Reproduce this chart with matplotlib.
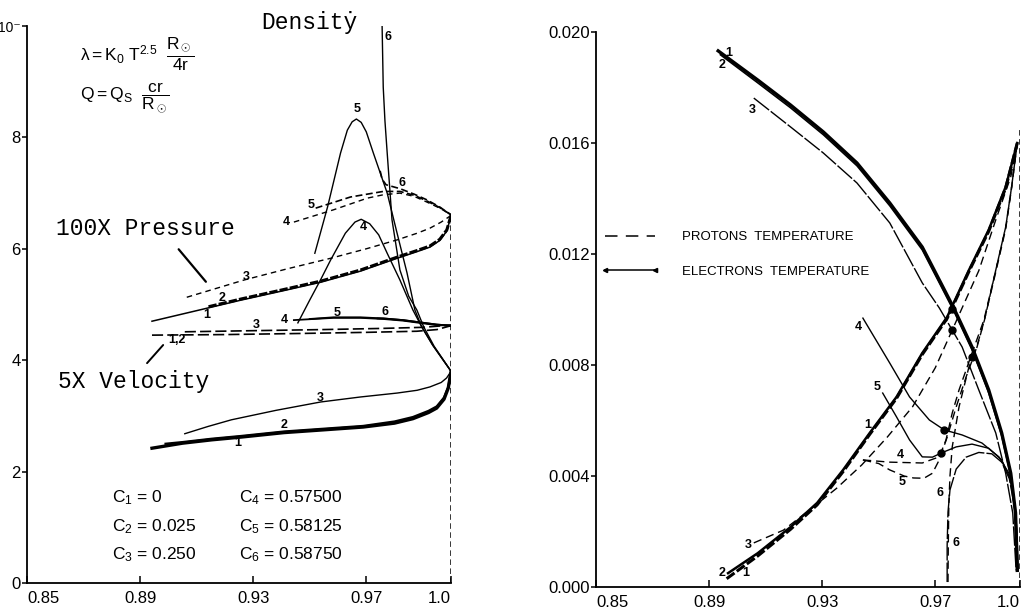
import matplotlib
matplotlib.use('Agg')
import matplotlib.pyplot as plt
from matplotlib.lines import Line2D

plt.rcParams['font.family'] = ['Liberation Sans', 'DejaVu Sans']
plt.rcParams['mathtext.fontset'] = 'custom'
plt.rcParams['mathtext.rm'] = 'Liberation Sans'
plt.rcParams['mathtext.it'] = 'Liberation Sans'
plt.rcParams['mathtext.bf'] = 'Liberation Sans:bold'
plt.rcParams['lines.scale_dashes'] = False

# ---------------- LEFT PANEL DATA ----------------
x_ticks = [0.85, 0.89, 0.93, 0.97, 1.0]
x_ticklabels = ['0.85', '0.89', '0.93', '0.97', '1.0']
left_yticks = [0, 2, 4, 6, 8, 10]
left_yticklabels = ['0', '2', '4', '6', '8', '10\u207b']

# density
dens1_x = [0.8942, 0.9050, 0.9153, 0.9258, 0.9409, 0.9550, 0.9689, 0.9800, 0.9865, 0.9920, 0.9949, 0.9975, 0.9990, 1.0]
dens1_y = [2.42, 2.51, 2.57, 2.62, 2.70, 2.75, 2.80, 2.87, 2.95, 3.06, 3.14, 3.30, 3.50, 3.80]
dens2_x = [0.8990, 0.9050, 0.9153, 0.9258, 0.9409, 0.9550, 0.9689, 0.9800, 0.9865, 0.9920, 0.9949, 0.9975, 0.9990, 1.0]
dens2_y = [2.50, 2.53, 2.59, 2.64, 2.72, 2.77, 2.82, 2.90, 2.98, 3.09, 3.17, 3.33, 3.52, 3.80]
dens3_x = [0.9058, 0.9140, 0.9223, 0.9381, 0.9539, 0.9680, 0.9809, 0.9880, 0.9925, 0.9965, 0.9984, 1.0]
dens3_y = [2.68, 2.81, 2.93, 3.10, 3.25, 3.34, 3.41, 3.46, 3.52, 3.60, 3.68, 3.80]
dens4_x = [0.9458, 0.9500, 0.9540, 0.9574, 0.9626, 0.9660, 0.9682, 0.9712, 0.9744, 0.9774, 0.9819, 0.9865, 0.9896, 0.9935, 1.0]
dens4_y = [4.67, 5.08, 5.46, 5.80, 6.28, 6.48, 6.53, 6.45, 6.25, 5.92, 5.44, 4.90, 4.60, 4.27, 3.80]
dens5_x = [0.9518, 0.9563, 0.9609, 0.9633, 0.9650, 0.9665, 0.9682, 0.9700, 0.9725, 0.9774, 0.9809, 0.9844, 0.9872, 0.9896, 0.9935, 1.0]
dens5_y = [5.92, 6.75, 7.72, 8.13, 8.28, 8.33, 8.27, 8.10, 7.72, 7.00, 6.28, 5.57, 4.90, 4.60, 4.27, 3.80]
dens6_x = [0.9756, 0.9760, 0.9766, 0.9774, 0.9791, 0.9819, 0.9850, 0.9879, 0.9903, 0.9940, 1.0]
dens6_y = [10.0, 8.9, 8.3, 7.72, 6.52, 5.62, 5.15, 4.90, 4.60, 4.25, 3.80]

# pressure (x100)
pres1_x = [0.8942, 0.9142, 0.9258, 0.9400, 0.9539, 0.9680, 0.9809, 0.9880, 0.9925, 0.9960, 0.9985, 1.0]
pres1_y = [4.70, 4.94, 5.08, 5.24, 5.40, 5.60, 5.83, 5.95, 6.03, 6.15, 6.32, 6.60]
pres2_x = [0.9142, 0.9258, 0.9400, 0.9539, 0.9680, 0.9809, 0.9880, 0.9925, 0.9960, 0.9985, 1.0]
pres2_y = [4.96, 5.10, 5.26, 5.42, 5.62, 5.85, 5.97, 6.05, 6.17, 6.34, 6.60]
pres3_x = [0.9065, 0.9268, 0.9420, 0.9574, 0.9700, 0.9809, 0.9880, 0.9925, 0.9965, 1.0]
pres3_y = [5.13, 5.44, 5.64, 5.83, 6.00, 6.16, 6.28, 6.37, 6.48, 6.60]
pres4_x = [0.9444, 0.9584, 0.9704, 0.9760, 0.9819, 0.9870, 0.9914, 0.9960, 1.0]
pres4_y = [6.48, 6.70, 6.91, 6.97, 7.00, 6.94, 6.84, 6.73, 6.61]
pres5_x = [0.9521, 0.9644, 0.9760, 0.9819, 0.9870, 0.9914, 0.9960, 1.0]
pres5_y = [6.73, 6.93, 7.03, 7.03, 6.96, 6.86, 6.74, 6.61]
pres6_x = [0.9749, 0.9756, 0.9770, 0.9819, 0.9870, 0.9914, 0.9960, 1.0]
pres6_y = [7.40, 7.25, 7.15, 7.08, 6.98, 6.88, 6.75, 6.61]

# velocity (x5)
vel12_x = [0.8942, 0.9200, 0.9468, 0.9700, 0.9879, 0.9950, 1.0]
vel12_y = [4.45, 4.46, 4.48, 4.50, 4.52, 4.55, 4.62]
vel3_x = [0.9058, 0.9300, 0.9550, 0.9750, 0.9900, 1.0]
vel3_y = [4.51, 4.53, 4.55, 4.57, 4.59, 4.63]
vel4_x = [0.9444, 0.9584, 0.9680, 0.9760, 0.9830, 0.9889, 0.9949, 1.0]
vel4_y = [4.72, 4.76, 4.76, 4.74, 4.71, 4.67, 4.63, 4.62]
vel5_x = [0.9500, 0.9584, 0.9680, 0.9760, 0.9830, 0.9889, 0.9949, 1.0]
vel5_y = [4.74, 4.77, 4.77, 4.75, 4.72, 4.68, 4.64, 4.62]
vel6_x = [0.9740, 0.9760, 0.9830, 0.9889, 0.9949, 1.0]
vel6_y = [4.75, 4.75, 4.72, 4.68, 4.64, 4.62]

left_boundary_x = [1.0, 1.0]
left_boundary_y = [0.0, 6.6]

left_labels = [('6', 0.9777, 9.80), ('5', 0.9668, 8.51), ('6', 0.9826, 7.18),
               ('5', 0.9504, 6.79), ('4', 0.9416, 6.48), ('4', 0.9690, 6.39),
               ('3', 0.9275, 5.49), ('2', 0.9191, 5.12), ('1', 0.9135, 4.81),
               ('4', 0.9409, 4.72), ('5', 0.9598, 4.85), ('6', 0.9767, 4.87),
               ('3', 0.9311, 4.63), ('1,2', 0.9030, 4.36), ('3', 0.9539, 3.32),
               ('2', 0.9409, 2.84), ('1', 0.9247, 2.51)]

c_labels_left = ['C$_1$ = 0', 'C$_2$ = 0.025', 'C$_3$ = 0.250']
c_labels_right = ['C$_4$ = 0.57500', 'C$_5$ = 0.58125', 'C$_6$ = 0.58750']

# ---------------- RIGHT PANEL DATA ----------------
right_yticks = [0.0, 0.004, 0.008, 0.012, 0.016, 0.020]
right_yticklabels = ['0.000', '0.004', '0.008', '0.012', '0.016', '0.020']

elec1_x = [0.8932, 0.9072, 0.9188, 0.9304, 0.9423, 0.9539, 0.9654, 0.9720, 0.9767, 0.9830, 0.9889, 0.9935, 0.9967, 0.9984, 0.9990]
elec1_y = [0.01932, 0.01827, 0.01737, 0.01640, 0.01528, 0.01384, 0.01225, 0.01095, 0.01002, 0.00865, 0.00710, 0.00555, 0.00410, 0.00267, 0.00060]
elec2_x = [0.8940, 0.9072, 0.9188, 0.9304, 0.9423, 0.9539, 0.9654, 0.9720, 0.9767, 0.9830, 0.9889, 0.9935, 0.9967, 0.9984, 0.9990]
elec2_y = [0.01918, 0.01817, 0.01727, 0.01630, 0.01518, 0.01374, 0.01215, 0.01085, 0.00992, 0.00855, 0.00700, 0.00545, 0.00400, 0.00260, 0.00060]
elec3_x = [0.9058, 0.9188, 0.9304, 0.9423, 0.9539, 0.9654, 0.9714, 0.9795, 0.9854, 0.9914, 0.9949, 0.9974, 0.9986]
elec3_y = [0.01762, 0.01658, 0.01564, 0.01456, 0.01312, 0.01096, 0.01006, 0.00865, 0.00710, 0.00555, 0.00410, 0.00267, 0.00060]
elec4_x = [0.9444, 0.9539, 0.9609, 0.9679, 0.9732, 0.9795, 0.9865, 0.9925, 0.9960, 0.9978, 0.9989, 0.9993]
elec4_y = [0.00969, 0.00807, 0.00685, 0.00602, 0.00566, 0.00548, 0.00519, 0.00469, 0.00411, 0.00324, 0.00205, 0.00060]
elec5_x = [0.9514, 0.9563, 0.9609, 0.9654, 0.9690, 0.9721, 0.9774, 0.9830, 0.9889, 0.9935, 0.9967, 0.9984, 0.9992]
elec5_y = [0.00699, 0.00613, 0.00530, 0.00469, 0.00468, 0.00483, 0.00505, 0.00515, 0.00500, 0.00458, 0.00386, 0.00267, 0.00060]
elec6_x = [0.9742, 0.9742, 0.9745, 0.9752, 0.9774, 0.9809, 0.9854, 0.9900, 0.9935, 0.9962, 0.9980, 0.9990]
elec6_y = [0.00018, 0.00150, 0.00270, 0.00350, 0.00425, 0.00468, 0.00485, 0.00480, 0.00450, 0.00390, 0.00290, 0.00060]

prot1_x = [0.8967, 0.9072, 0.9188, 0.9282, 0.9374, 0.9468, 0.9563, 0.9654, 0.9742, 0.9819, 0.9889, 0.9949, 0.9977, 0.9990]
prot1_y = [0.00050, 0.00122, 0.00216, 0.00303, 0.00422, 0.00555, 0.00685, 0.00843, 0.00973, 0.01142, 0.01287, 0.01442, 0.01550, 0.01600]
prot2_x = [0.8962, 0.9072, 0.9188, 0.9282, 0.9374, 0.9468, 0.9563, 0.9654, 0.9742, 0.9819, 0.9889, 0.9949, 0.9977, 0.9990]
prot2_y = [0.00030, 0.00112, 0.00208, 0.00296, 0.00416, 0.00550, 0.00680, 0.00838, 0.00968, 0.01137, 0.01282, 0.01438, 0.01548, 0.01600]
prot3_x = [0.9058, 0.9163, 0.9268, 0.9350, 0.9440, 0.9530, 0.9620, 0.9700, 0.9760, 0.9854, 0.9914, 0.9967, 0.9990]
prot3_y = [0.00159, 0.00205, 0.00288, 0.00355, 0.00440, 0.00540, 0.00650, 0.00790, 0.00926, 0.01140, 0.01323, 0.01478, 0.01600]
prot4_x = [0.9444, 0.9539, 0.9654, 0.9714, 0.9738, 0.9760, 0.9784, 0.9809, 0.9830, 0.9872, 0.9914, 0.9949, 0.9970, 0.9990]
prot4_y = [0.00458, 0.00450, 0.00447, 0.00469, 0.00530, 0.00627, 0.00710, 0.00782, 0.00843, 0.00962, 0.01142, 0.01297, 0.01442, 0.01600]
prot5_x = [0.9444, 0.9500, 0.9539, 0.9590, 0.9623, 0.9660, 0.9690, 0.9714, 0.9742, 0.9774, 0.9809, 0.9840, 0.9872, 0.9914, 0.9949, 0.9970, 0.9990]
prot5_y = [0.00458, 0.00445, 0.00422, 0.00400, 0.00393, 0.00392, 0.00410, 0.00458, 0.00540, 0.00649, 0.00757, 0.00843, 0.00955, 0.01135, 0.01290, 0.01438, 0.01600]
prot6_x = [0.9745, 0.9746, 0.9748, 0.9752, 0.9760, 0.9784, 0.9819, 0.9845, 0.9874, 0.9914, 0.9949, 0.9970, 0.9990]
prot6_y = [0.00018, 0.00150, 0.00300, 0.00400, 0.00505, 0.00649, 0.00793, 0.00855, 0.00962, 0.01142, 0.01297, 0.01442, 0.01600]

dots_x = [0.9760, 0.9760, 0.9732, 0.9721, 0.9830]
dots_y = [0.01002, 0.00926, 0.00566, 0.00483, 0.00830]

right_boundary_x = [1.0, 1.0]
right_boundary_y = [0.0, 0.0165]

right_labels = [('1', 0.8970, 0.01925), ('2', 0.8946, 0.01881), ('3', 0.9054, 0.01719),
                ('4', 0.9426, 0.00937), ('5', 0.9493, 0.00721), ('1', 0.9461, 0.00584),
                ('4', 0.9577, 0.00476), ('5', 0.9584, 0.00378), ('6', 0.9718, 0.00339),
                ('6', 0.9774, 0.00159), ('3', 0.9037, 0.00151), ('2', 0.8946, 0.00050),
                ('1', 0.9030, 0.00050)]

# ---------------- FIGURE ----------------
fig = plt.figure(figsize=(10.28, 6.12), dpi=100)
axL = fig.add_axes([0.0263, 0.0474, 0.4125, 0.9101])
axR = fig.add_axes([0.5798, 0.0408, 0.4125, 0.9069])

K = 'black'
thin = 1.0
thick = 2.4

# ---- left panel lines ----
axL.plot(dens1_x, dens1_y, color=K, lw=thick)
axL.plot(dens2_x, dens2_y, color=K, lw=1.6)
axL.plot(dens3_x, dens3_y, color=K, lw=thin)
axL.plot(dens4_x, dens4_y, color=K, lw=thin)
axL.plot(dens5_x, dens5_y, color=K, lw=thin)
axL.plot(dens6_x, dens6_y, color=K, lw=thin)

axL.plot(pres1_x, pres1_y, color=K, lw=1.1)
axL.plot(pres2_x, pres2_y, color=K, lw=2.2, dashes=(6, 1.5))
axL.plot(pres3_x, pres3_y, color=K, lw=thin, dashes=(4, 3))
axL.plot(pres4_x, pres4_y, color=K, lw=thin, dashes=(4, 3))
axL.plot(pres5_x, pres5_y, color=K, lw=1.2, dashes=(5, 2.5))
axL.plot(pres6_x, pres6_y, color=K, lw=1.2, dashes=(5, 2.5))

axL.plot(vel12_x, vel12_y, color=K, lw=1.2, dashes=(8, 3))
axL.plot(vel3_x, vel3_y, color=K, lw=1.2, dashes=(8, 3))
axL.plot(vel4_x, vel4_y, color=K, lw=1.3)
axL.plot(vel5_x, vel5_y, color=K, lw=1.3)
axL.plot(vel6_x, vel6_y, color=K, lw=1.3)

axL.plot(left_boundary_x, left_boundary_y, color=K, lw=1.1, dashes=(4, 2.5))

for t, x, y in left_labels:
    axL.text(x, y, t, fontsize=9, fontweight='bold', ha='center', va='center')

mono = ['Liberation Mono', 'DejaVu Sans Mono']
axL.text(0.8602, 6.37, '100X Pressure', family=mono, fontsize=16.5, va='center')
axL.text(0.8609, 3.61, '5X Velocity', family=mono, fontsize=16.5, va='center')
axL.text(0.9328, 10.07, 'Densit\u1e8f', family=mono, fontsize=16.5, va='center', clip_on=False)
axL.annotate('', xy=(0.9139, 5.37), xytext=(0.9030, 6.03),
             arrowprops=dict(arrowstyle='-', color=K, lw=1.6))
axL.annotate('', xy=(0.8988, 4.31), xytext=(0.8918, 3.91),
             arrowprops=dict(arrowstyle='-', color=K, lw=1.4))

axL.text(0.8686, 9.50, r'$\lambda = \mathrm{K_0\ T^{2.5}}\ \ \dfrac{\mathrm{R}_\odot}{\mathrm{4r}}$', fontsize=12.5, va='center')
axL.text(0.8686, 8.70, r'$\mathrm{Q = Q_S}\ \ \dfrac{\mathrm{cr}}{\mathrm{R}_\odot}$', fontsize=12.5, va='center')

for lab, yy in zip(c_labels_left, [1.53, 1.01, 0.50]):
    axL.text(0.8802, yy, lab, fontsize=12.5, va='center')
for lab, yy in zip(c_labels_right, [1.53, 1.01, 0.50]):
    axL.text(0.9251, yy, lab, fontsize=12.5, va='center')

axL.set_xlim(0.85, 1.0)
axL.set_ylim(0, 10)
axL.set_xticks(x_ticks)
axL.set_xticklabels(x_ticklabels)
axL.set_yticks(left_yticks)
axL.set_yticklabels(left_yticklabels)

# ---- right panel lines ----
axR.plot(elec1_x, elec1_y, color=K, lw=thick)
axR.plot(elec2_x, elec2_y, color=K, lw=1.2)
axR.plot(elec3_x, elec3_y, color=K, lw=thin, dashes=(14, 1.5))
axR.plot(elec4_x, elec4_y, color=K, lw=thin)
axR.plot(elec5_x, elec5_y, color=K, lw=thin)
axR.plot(elec6_x, elec6_y, color=K, lw=thin, dashes=(14, 1.5))

axR.plot(prot1_x, prot1_y, color=K, lw=1.8)
axR.plot(prot2_x, prot2_y, color=K, lw=2.2, dashes=(7, 2))
axR.plot(prot3_x, prot3_y, color=K, lw=thin, dashes=(6, 3.5))
axR.plot(prot4_x, prot4_y, color=K, lw=thin, dashes=(6, 3.5))
axR.plot(prot5_x, prot5_y, color=K, lw=thin, dashes=(6, 3.5))
axR.plot(prot6_x, prot6_y, color=K, lw=thin, dashes=(6, 3.5))

axR.plot(dots_x, dots_y, 'o', color=K, ms=5)
axR.plot(right_boundary_x, right_boundary_y, color=K, lw=1.1, dashes=(4, 2.5))

for t, x, y in right_labels:
    axR.text(x, y, t, fontsize=9, fontweight='bold', ha='center', va='center')

handles = [Line2D([], [], color=K, lw=1.1, dashes=(9, 6)),
           Line2D([], [], color=K, lw=1.1, marker='<', ms=3.0)]
axR.legend(handles, ['PROTONS  TEMPERATURE', 'ELECTRONS  TEMPERATURE'],
           loc='upper left', bbox_to_anchor=(0.012, 0.641), frameon=False,
           fontsize=9.5, handlelength=4.4, handletextpad=1.7, labelspacing=1.65,
           borderpad=0, borderaxespad=0, numpoints=2)

axR.set_xlim(0.85, 1.0)
axR.set_ylim(0, 0.020)
axR.set_xticks(x_ticks)
axR.set_xticklabels(x_ticklabels)
axR.set_yticks(right_yticks)
axR.set_yticklabels(right_yticklabels)

for ax in (axL, axR):
    for s in ('top', 'right'):
        ax.spines[s].set_visible(False)
    for s in ('left', 'bottom'):
        ax.spines[s].set_linewidth(1.3)
    ax.tick_params(axis='x', direction='in', length=5, width=1.1, labelsize=12, pad=6)
    ax.tick_params(axis='y', direction='out', length=3.5, width=1.1, labelsize=12, pad=1)
    labs = ax.get_xticklabels()
    labs[0].set_ha('left')
    labs[-1].set_ha('right')

axL.get_yticklabels()[-1].set_fontsize(10)

fig.savefig('out.png', dpi=100)
